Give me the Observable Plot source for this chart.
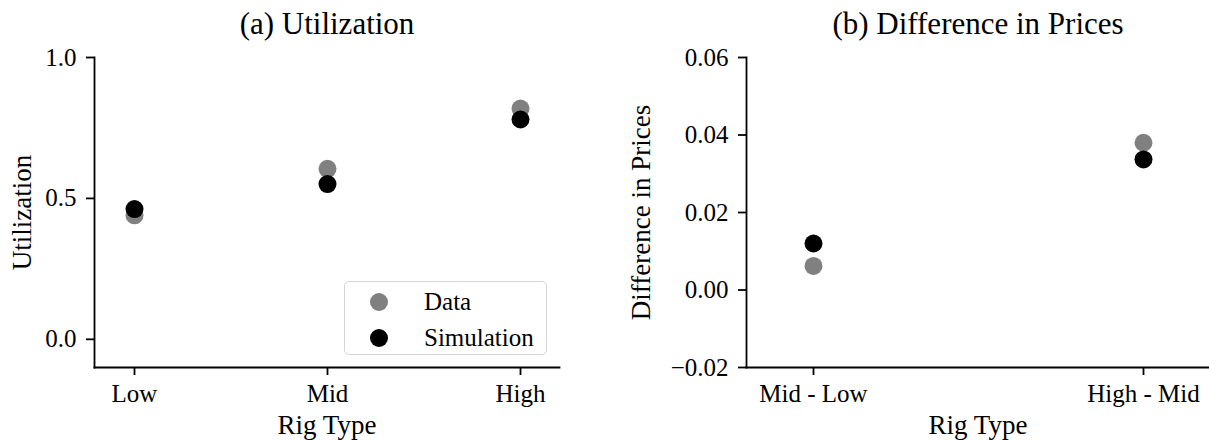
<!DOCTYPE html>
<html>
<head>
<meta charset="utf-8">
<script src="https://cdn.jsdelivr.net/npm/d3@7"></script>
<script src="https://cdn.jsdelivr.net/npm/@observablehq/plot@0.6"></script>
<style>
  body { margin: 0; background: #fff; }
  #chart { position: relative; width: 1209px; height: 440px; overflow: hidden; background: #fff; font-family: "Liberation Serif", serif; }
  .panel { position: absolute; top: 0; }
  .legend { position: absolute; left: 344px; top: 281px; width: 203px; height: 74px; box-sizing: border-box;
            border: 1.5px solid #d5d5d5; border-radius: 5px; background: rgba(255,255,255,0.8); }
  .legend .sw { position: absolute; width: 18px; height: 18px; border-radius: 50%; }
  .legend .lb { position: absolute; font-size: 25px; line-height: 26px; color: #000; white-space: nowrap; }
</style>
</head>
<body>
<div id="chart"></div>
<script>
// ---- data ----
const seriesNames = ["Data", "Simulation"];
const seriesColors = ["#808080", "#000000"];

const rigTypes = ["Low", "Mid", "High"];
const utilData = [0.440, 0.605, 0.819];
const utilSim  = [0.462, 0.551, 0.780];
const utilTicks = [0, 0.5, 1.0];

const diffTypes = ["Mid - Low", "High - Mid"];
const diffData = [0.0062, 0.0380];
const diffSim  = [0.0120, 0.0337];
const diffTicks = [-0.02, 0, 0.02, 0.04, 0.06];

function rowsFor(cats, dataVals, simVals) {
  const out = [];
  [dataVals, simVals].forEach((vals, i) => {
    cats.forEach((c, j) => out.push({cat: c, series: seriesNames[i], value: vals[j]}));
  });
  return out;
}

function panel(o) {
  return Plot.plot({
    width: o.width, height: 440,
    marginTop: 57, marginBottom: 73, marginLeft: o.marginLeft, marginRight: o.marginRight,
    style: {fontFamily: '"Liberation Serif", serif', fontSize: "25px", color: "#000", background: "transparent", overflow: "visible"},
    x: {type: "point", domain: o.cats, padding: 0.2},
    y: {domain: o.yDomain},
    color: {domain: seriesNames, range: seriesColors},
    marks: [
      Plot.frame({anchor: "left", strokeWidth: 1.8}),
      Plot.frame({anchor: "bottom", strokeWidth: 1.8}),
      Plot.axisX({tickSize: 8, tickPadding: 9, strokeWidth: 1.8, label: null, fontSize: 25}),
      Plot.axisY({ticks: o.yTicks, tickFormat: o.fmt, tickSize: 8, tickPadding: 10, strokeWidth: 1.8, label: null, fontSize: 25}),
      Plot.dot(o.rows, {x: "cat", y: "value", fill: "series", r: 9}),
      Plot.text([o.title], {frameAnchor: "top", textAnchor: "middle", lineAnchor: "middle", dy: -33, fontSize: 31}),
      Plot.text([o.ylabel], {frameAnchor: "left", textAnchor: "middle", lineAnchor: "middle", rotate: -90, dx: o.ylabelDx, fontSize: 27}),
      Plot.text(["Rig Type"], {frameAnchor: "bottom", textAnchor: "middle", lineAnchor: "middle", dy: 58, fontSize: 27})
    ]
  });
}

const chart = document.getElementById("chart");

const left = panel({
  width: 600, marginLeft: 94, marginRight: 41,
  cats: rigTypes, rows: rowsFor(rigTypes, utilData, utilSim),
  yDomain: [-0.1, 1.0], yTicks: utilTicks, fmt: d3.format(".1f"),
  title: "(a) Utilization", ylabel: "Utilization", ylabelDx: -72
});
left.classList.add("panel");
left.style.left = "0px";
chart.appendChild(left);

const right = panel({
  width: 609, marginLeft: 146, marginRight: 0,
  cats: diffTypes, rows: rowsFor(diffTypes, diffData, diffSim),
  yDomain: [-0.02, 0.06], yTicks: diffTicks, fmt: d3.format(".2f"),
  title: "(b) Difference in Prices", ylabel: "Difference in Prices", ylabelDx: -105
});
right.classList.add("panel");
right.style.left = "600px";
chart.appendChild(right);

// legend
const lg = document.createElement("div");
lg.className = "legend";
seriesNames.forEach((name, i) => {
  const sw = document.createElement("div");
  sw.className = "sw";
  sw.style.background = seriesColors[i];
  sw.style.left = (34 - 9) + "px";
  sw.style.top = (20 + i * 36 - 9) + "px";
  lg.appendChild(sw);
  const lb = document.createElement("div");
  lb.className = "lb";
  lb.textContent = name;
  lb.style.left = "79px";
  lb.style.top = (20 + i * 36 - 13) + "px";
  lg.appendChild(lb);
});
chart.appendChild(lg);
</script>
</body>
</html>
